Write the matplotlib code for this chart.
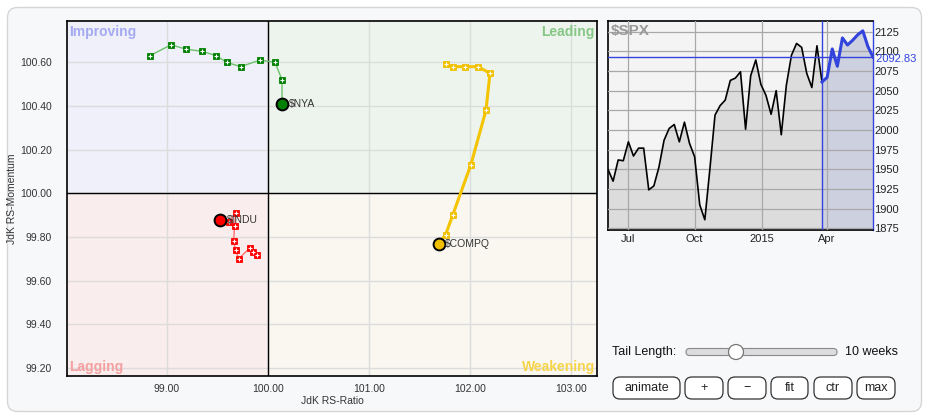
import matplotlib
matplotlib.use("Agg")
import matplotlib.pyplot as plt
from matplotlib.patches import FancyBboxPatch, Rectangle, Circle
import pandas as pd

plt.rcParams['font.family'] = ['Liberation Sans', 'DejaVu Sans']

W, H = 938, 413

# RRG tails, oldest -> newest (last point = head)
nya_x = [98.83, 99.04, 99.19, 99.35, 99.49, 99.59, 99.73, 99.92, 100.07, 100.14, 100.14]
nya_y = [100.63, 100.68, 100.66, 100.65, 100.63, 100.60, 100.58, 100.61, 100.60, 100.52, 100.41]

compq_x = [101.76, 101.83, 101.95, 102.08, 102.20, 102.16, 102.01, 101.83, 101.76, 101.69]
compq_y = [100.59, 100.58, 100.58, 100.58, 100.55, 100.38, 100.13, 99.90, 99.81, 99.77]

indu_x = [99.89, 99.85, 99.82, 99.71, 99.68, 99.66, 99.67, 99.68, 99.61, 99.53]
indu_y = [99.72, 99.73, 99.75, 99.70, 99.74, 99.78, 99.85, 99.91, 99.87, 99.88]

rrg_xticks = [99.0, 100.0, 101.0, 102.0, 103.0]
rrg_yticks = [99.2, 99.4, 99.6, 99.8, 100.0, 100.2, 100.4, 100.6]

# $SPX weekly closes
spx_close = [1950, 1935, 1962, 1961, 1985, 1967, 1977, 1977, 1924, 1929,
             1953, 1987, 2002, 2007, 1985, 2010, 1983, 1966, 1905, 1886,
             1951, 2019, 2031, 2038, 2063, 2066, 2074, 2001, 2069, 2089,
             2058, 2044, 2020, 2050, 1994, 2057, 2095, 2110, 2105, 2072,
             2054, 2107, 2061, 2067, 2103, 2081, 2117, 2108, 2114, 2121,
             2126, 2106, 2092.83]
spx_dates = pd.date_range('2014-06-04', periods=len(spx_close), freq='7D')
tail_weeks = 10
spx_ticks = ['2014-07-01', '2014-10-01', '2015-01-01', '2015-04-01']
spx_ticklabels = ['Jul', 'Oct', '2015', 'Apr']
spx_yticks = list(range(1875, 2126, 25))


def px_axes(fig, x0, y0, x1, y1, **kw):
    return fig.add_axes([x0 / W, 1 - y1 / H, (x1 - x0) / W, (y1 - y0) / H], **kw)


fig = plt.figure(figsize=(W / 100, H / 100), dpi=100)
fig.patch.set_facecolor('white')

# background panel + controls, in pixel coords
bg = fig.add_axes([0, 0, 1, 1], zorder=0)
bg.set_xlim(0, W)
bg.set_ylim(H, 0)
bg.axis('off')
bg.add_patch(FancyBboxPatch((7.5, 7.5), 914, 404, boxstyle='round,pad=0,rounding_size=10',
                            fc='#f7f8fa', ec='#d6d6d6', lw=1))

bg.text(612, 352, 'Tail Length:', fontsize=9, va='center', ha='left', color='#111')
bg.add_patch(FancyBboxPatch((686, 348.5), 151, 7, boxstyle='round,pad=0,rounding_size=3.5',
                            fc='#dcdcdc', ec='#8a8a8a', lw=0.8))
bg.add_patch(Circle((736, 352), 7.5, fc='white', ec='#777', lw=0.9, zorder=3))
bg.text(845, 352, '10 weeks', fontsize=9, va='center', ha='left', color='#111')

buttons = [('animate', 613, 680), ('+', 685, 723), ('\u2212', 728, 766),
           ('fit', 771, 808), ('ctr', 814, 852), ('max', 857, 895)]
for lab, bx0, bx1 in buttons:
    bg.add_patch(FancyBboxPatch((bx0, 377), bx1 - bx0, 22, boxstyle='round,pad=0,rounding_size=7',
                                fc='white', ec='#333', lw=0.9))
    bg.text((bx0 + bx1) / 2, 388, lab, fontsize=9, ha='center', va='center', color='#222')

# ---- RRG ----
ax = px_axes(fig, 67, 21, 597, 376, zorder=1)
xlo, xhi, ylo, yhi = 98.01, 103.26, 99.164, 100.789
ax.set_xlim(xlo, xhi)
ax.set_ylim(ylo, yhi)
ax.add_patch(Rectangle((xlo, 100), 100 - xlo, yhi - 100, fc='#eff0f9', ec='none', zorder=0))
ax.add_patch(Rectangle((100, 100), xhi - 100, yhi - 100, fc='#edf4ed', ec='none', zorder=0))
ax.add_patch(Rectangle((xlo, ylo), 100 - xlo, 100 - ylo, fc='#f9eded', ec='none', zorder=0))
ax.add_patch(Rectangle((100, ylo), xhi - 100, 100 - ylo, fc='#f9f7f0', ec='none', zorder=0))
ax.set_xticks(rrg_xticks)
ax.set_xticklabels(['%.2f' % v for v in rrg_xticks])
ax.set_yticks(rrg_yticks)
ax.set_yticklabels(['%.2f' % v for v in rrg_yticks])
ax.tick_params(length=0, labelsize=7.5, labelcolor='#333')
ax.tick_params(axis='y', pad=11)
ax.tick_params(axis='x', pad=6)
ax.grid(True, color='#dcdcdc', lw=1, zorder=1)
ax.set_axisbelow(True)
ax.axvline(100, color='black', lw=1, zorder=2)
ax.axhline(100, color='black', lw=1, zorder=2)
for s in ax.spines.values():
    s.set_linewidth(1.2)
ax.set_xlabel('JdK RS-Ratio', fontsize=7.5, color='#333', labelpad=1)
ax.set_ylabel('JdK RS-Momentum', fontsize=7.5, color='#333', labelpad=2)

ax.text(0.004, 0.99, 'Improving', transform=ax.transAxes, ha='left', va='top',
        fontsize=10, fontweight='bold', color='#a3aaf0')
ax.text(0.996, 0.99, 'Leading', transform=ax.transAxes, ha='right', va='top',
        fontsize=10, fontweight='bold', color='#86c786')
ax.text(0.004, 0.005, 'Lagging', transform=ax.transAxes, ha='left', va='bottom',
        fontsize=10, fontweight='bold', color='#f4a0a0')
ax.text(0.996, 0.005, 'Weakening', transform=ax.transAxes, ha='right', va='bottom',
        fontsize=10, fontweight='bold', color='#f6d44a')

series = [
    ('\\$NYA', nya_x, nya_y, '#6cc06c', 1.0, '#008000'),
    ('\\$COMPQ', compq_x, compq_y, '#f5c400', 2.2, '#f0c000'),
    ('\\$INDU', indu_x, indu_y, '#ff7070', 1.0, '#ff0000'),
]
for name, xs, ys, lc, lw, mc in series:
    ax.plot(xs, ys, color=lc, lw=lw, zorder=4, solid_capstyle='round')
    ax.plot(xs[:-1], ys[:-1], ls='none', marker='s', ms=4.3, mfc=mc, mec=mc, mew=0.6, zorder=5)
    ax.plot(xs[:-1], ys[:-1], ls='none', marker='+', ms=2.8, mew=0.8, color='white', zorder=6)
    ax.plot(xs[-1:], ys[-1:], ls='none', marker='o', ms=8.5, mfc=mc, mec='black', mew=1.4, zorder=7)
    ax.annotate(name, (xs[-1], ys[-1]), xytext=(5, 0), textcoords='offset points',
                fontsize=7.5, color='#333', va='center', ha='left', zorder=8)

# ---- $SPX ----
sx = px_axes(fig, 608, 21, 873, 230, zorder=1)
sx.set_facecolor('#f4f4f4')
n0 = len(spx_close) - 1 - tail_weeks
sx.fill_between(spx_dates[:n0 + 1], spx_close[:n0 + 1], 1800, color='#dcdcdc', lw=0, zorder=1)
sx.fill_between(spx_dates[n0:], spx_close[n0:], 1800, color='#cdd0de', lw=0, zorder=1)
sx.plot(spx_dates[:n0 + 1], spx_close[:n0 + 1], color='black', lw=1.2, zorder=3)
sx.plot(spx_dates[n0:], spx_close[n0:], color='#3344dd', lw=2.2, zorder=3)
sx.axvline(spx_dates[n0], color='#3344dd', lw=1, zorder=4)
sx.axhline(spx_close[-1], color='#3344dd', lw=1, zorder=4)
sx.set_xlim(spx_dates[0], spx_dates[-1])
sx.set_ylim(1873, 2138.5)
sx.set_xticks(pd.to_datetime(spx_ticks))
sx.set_xticklabels(spx_ticklabels)
sx.set_yticks(spx_yticks)
sx.yaxis.tick_right()
sx.tick_params(length=0, labelsize=8, labelcolor='#222')
sx.tick_params(axis='y', pad=1)
sx.tick_params(axis='x', pad=3)
sx.grid(True, color='#a8a8a8', lw=0.9, zorder=2)
sx.set_axisbelow(False)
for sp in ['top', 'left', 'bottom']:
    sx.spines[sp].set_linewidth(1.2)
    sx.spines[sp].set_color('black')
sx.spines['right'].set_color('#3344dd')
sx.spines['right'].set_linewidth(1)
sx.text(1.0, spx_close[-1] - 2, ' %.2f' % spx_close[-1], transform=sx.get_yaxis_transform(),
        fontsize=8, color='#3344dd', va='center', ha='left', zorder=6)
sx.text(0.01, 0.985, '\\$SPX', transform=sx.transAxes, ha='left', va='top',
        fontsize=11, fontweight='bold', color='#999', zorder=6)

fig.savefig('out.png', dpi=100)
